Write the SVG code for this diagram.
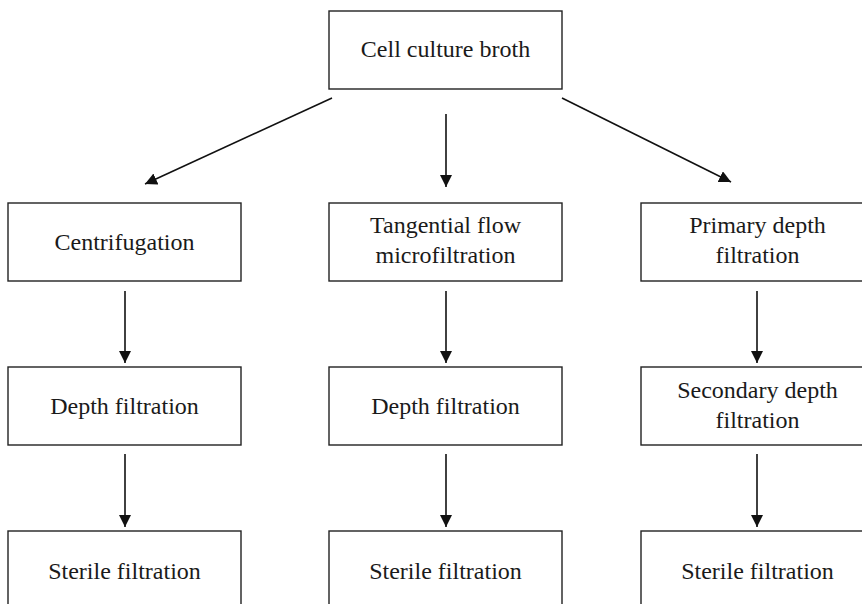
<svg xmlns="http://www.w3.org/2000/svg" width="862" height="604" viewBox="0 0 862 604">
  <style>
    .box { fill: #ffffff; stroke: #222222; stroke-width: 1.4; }
    .lbl { font-family: "Liberation Serif", "Times New Roman", serif; font-size: 24px; fill: #1a1a1a; text-anchor: middle; }
    .conn { stroke: #111111; stroke-width: 1.6; fill: none; marker-end: url(#arrow); }
  </style>
  <defs>
    <marker id="arrow" markerUnits="userSpaceOnUse" markerWidth="12" markerHeight="12" viewBox="0 0 10 10" refX="10" refY="5" orient="auto">
      <path d="M0,0 L10,5 L0,10 z" fill="#111111"/>
    </marker>
  </defs>
  <rect width="862" height="604" fill="#ffffff"/>

  <g id="broth">
    <rect class="box" x="329" y="11" width="233" height="78"/>
    <text class="lbl" x="445.5" y="57">Cell culture broth</text>
  </g>

  <g id="centrifugation">
    <rect class="box" x="8" y="203" width="233" height="78"/>
    <text class="lbl" x="124.5" y="250">Centrifugation</text>
  </g>
  <g id="tff">
    <rect class="box" x="329" y="203" width="233" height="78"/>
    <text class="lbl" x="445.5" y="233">Tangential flow</text>
    <text class="lbl" x="445.5" y="263">microfiltration</text>
  </g>
  <g id="primary">
    <rect class="box" x="641" y="203" width="233" height="78"/>
    <text class="lbl" x="757.5" y="233">Primary depth</text>
    <text class="lbl" x="757.5" y="263">filtration</text>
  </g>

  <g id="depth1">
    <rect class="box" x="8" y="367" width="233" height="78"/>
    <text class="lbl" x="124.5" y="414">Depth filtration</text>
  </g>
  <g id="depth2">
    <rect class="box" x="329" y="367" width="233" height="78"/>
    <text class="lbl" x="445.5" y="414">Depth filtration</text>
  </g>
  <g id="secondary">
    <rect class="box" x="641" y="367" width="233" height="78"/>
    <text class="lbl" x="757.5" y="398">Secondary depth</text>
    <text class="lbl" x="757.5" y="428">filtration</text>
  </g>

  <g id="sterile1">
    <rect class="box" x="8" y="531" width="233" height="78"/>
    <text class="lbl" x="124.5" y="579">Sterile filtration</text>
  </g>
  <g id="sterile2">
    <rect class="box" x="329" y="531" width="233" height="78"/>
    <text class="lbl" x="445.5" y="579">Sterile filtration</text>
  </g>
  <g id="sterile3">
    <rect class="box" x="641" y="531" width="233" height="78"/>
    <text class="lbl" x="757.5" y="579">Sterile filtration</text>
  </g>

  <g id="connectors">
    <line class="conn" x1="332" y1="98" x2="145" y2="184"/>
    <line class="conn" x1="446" y1="114" x2="446" y2="187"/>
    <line class="conn" x1="562" y1="98" x2="731" y2="182"/>

    <line class="conn" x1="125" y1="291" x2="125" y2="363"/>
    <line class="conn" x1="446" y1="291" x2="446" y2="363"/>
    <line class="conn" x1="757" y1="291" x2="757" y2="363"/>

    <line class="conn" x1="125" y1="454" x2="125" y2="527"/>
    <line class="conn" x1="446" y1="454" x2="446" y2="527"/>
    <line class="conn" x1="757" y1="454" x2="757" y2="527"/>
  </g>
</svg>
